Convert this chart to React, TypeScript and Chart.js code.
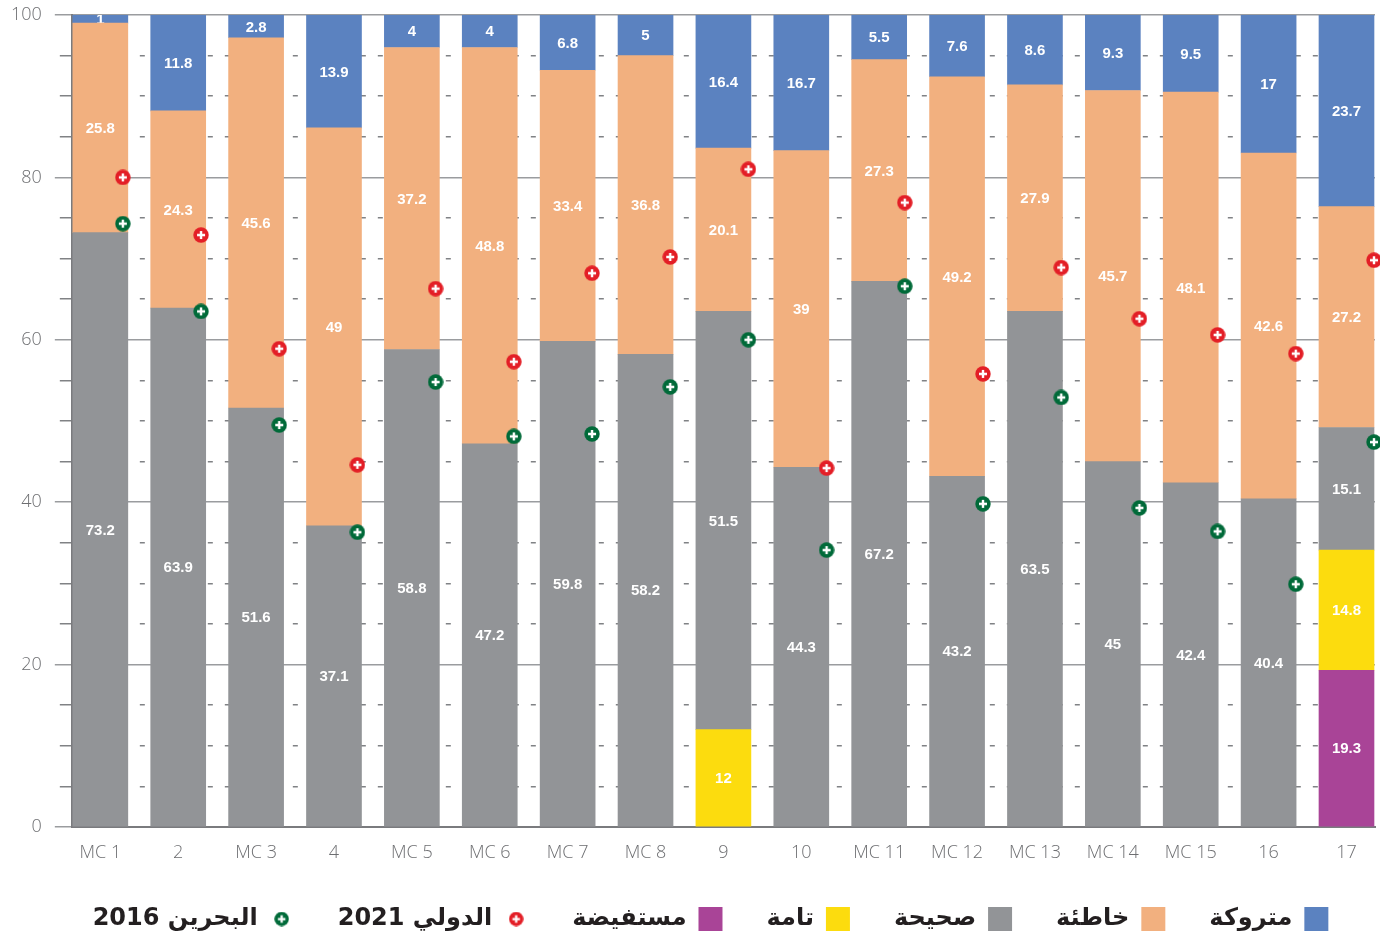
import React, { useEffect, useRef } from 'react';
import { Chart, registerables } from 'chart.js';

Chart.register(...registerables);

const categories = ['MC 1', '2', 'MC 3', '4', 'MC 5', 'MC 6', 'MC 7', 'MC 8', '9', '10', 'MC 11', 'MC 12', 'MC 13', 'MC 14', 'MC 15', '16', '17'];
const mustafida: (number | null)[] = [null, null, null, null, null, null, null, null, null, null, null, null, null, null, null, null, 19.3];
const tamma: (number | null)[] = [null, null, null, null, null, null, null, null, 12, null, null, null, null, null, null, null, 14.8];
const sahiha = [73.2, 63.9, 51.6, 37.1, 58.8, 47.2, 59.8, 58.2, 51.5, 44.3, 67.2, 43.2, 63.5, 45, 42.4, 40.4, 15.1];
const khatia = [25.8, 24.3, 45.6, 49, 37.2, 48.8, 33.4, 36.8, 20.1, 39, 27.3, 49.2, 27.9, 45.7, 48.1, 42.6, 27.2];
const matruka = [1, 11.8, 2.8, 13.9, 4, 4, 6.8, 5, 16.4, 16.7, 5.5, 7.6, 8.6, 9.3, 9.5, 17, 23.7];
const intl2021 = [80, 72.9, 58.9, 44.6, 66.3, 57.3, 68.2, 70.2, 81, 44.2, 76.9, 55.8, 68.9, 62.6, 60.6, 58.3, 69.8];
const bahrain2016 = [74.3, 63.5, 49.5, 36.3, 54.8, 48.1, 48.4, 54.2, 60, 34.1, 66.6, 39.8, 52.9, 39.3, 36.4, 29.9, 47.4];

const seriesLabels = ['مستفيضة', 'تامة', 'صحيحة', 'خاطئة', 'متروكة', 'الدولي 2021', 'البحرين 2016'];
const seriesColors = ['#a94497', '#fcdc0e', '#929497', '#f2b07f', '#5b82c0', '#e31e26', '#006a39'];
const legendOrder = [4, 3, 2, 1, 0, 5, 6];

const MAJOR = '#9a9c9f';
const MINOR = '#808285';
const AXIS = '#7a7b7e';

function makeMarker(color: string, d: number): HTMLCanvasElement {
  const c = document.createElement('canvas');
  c.width = d;
  c.height = d;
  const ctx = c.getContext('2d')!;
  const r = d / 2;
  ctx.fillStyle = color;
  ctx.beginPath();
  ctx.arc(r, r, r - 0.3, 0, Math.PI * 2);
  ctx.fill();
  ctx.strokeStyle = '#ffffff';
  ctx.lineWidth = d * 0.15;
  const a = d * 0.25;
  ctx.beginPath();
  ctx.moveTo(r - a, r);
  ctx.lineTo(r + a, r);
  ctx.moveTo(r, r - a);
  ctx.lineTo(r, r + a);
  ctx.stroke();
  return c;
}

const toPoints = (arr: (number | null)[]) => arr.map((v, i) => ({ x: i, y: v }));

const valueLabels = {
  id: 'valueLabels',
  afterDatasetDraw(chart: any, args: any) {
    const ds = chart.data.datasets[args.index];
    if (ds.type !== 'bar') return;
    const ctx = chart.ctx;
    const area = chart.chartArea;
    ctx.save();
    ctx.beginPath();
    ctx.rect(area.left, area.top, area.right - area.left, area.bottom - area.top);
    ctx.clip();
    ctx.font = 'bold 15px "Liberation Sans", Arial, sans-serif';
    ctx.fillStyle = '#ffffff';
    ctx.textAlign = 'center';
    ctx.textBaseline = 'middle';
    args.meta.data.forEach((el: any, i: number) => {
      const v = ds.data[i].y;
      if (v == null) return;
      const p = el.getProps(['x', 'y', 'base'], true);
      ctx.fillText(String(v), p.x, (p.y + p.base) / 2 + 1);
    });
    ctx.restore();
  },
};

export default function App() {
  const ref = useRef<HTMLCanvasElement | null>(null);

  useEffect(() => {
    if (!ref.current) return;
    const redBig = makeMarker(seriesColors[5], 16);
    const greenBig = makeMarker(seriesColors[6], 16);
    const redSmall = makeMarker(seriesColors[5], 15);
    const greenSmall = makeMarker(seriesColors[6], 15);
    const barSeries = [mustafida, tamma, sahiha, khatia, matruka];

    const datasets: any[] = barSeries.map((arr, k) => ({
      type: 'bar',
      label: seriesLabels[k],
      data: toPoints(arr),
      backgroundColor: seriesColors[k],
      borderWidth: 0,
      barThickness: 55,
      stack: 'bars',
      grouped: false,
      xAxisID: 'x',
      yAxisID: 'y',
    }));
    datasets.push({
      type: 'line',
      label: seriesLabels[5],
      data: toPoints(intl2021),
      showLine: false,
      pointStyle: redBig,
      clip: false,
      xAxisID: 'x2',
      yAxisID: 'y',
      stack: 'intl',
      order: -1,
    });
    datasets.push({
      type: 'line',
      label: seriesLabels[6],
      data: toPoints(bahrain2016),
      showLine: false,
      pointStyle: greenBig,
      clip: false,
      xAxisID: 'x2',
      yAxisID: 'y',
      stack: 'bh',
      order: -2,
    });

    const tickFont = { family: '"Open Sans", "Liberation Sans", sans-serif', size: 18, weight: 300 as any };

    const chart = new Chart(ref.current, {
      type: 'bar',
      data: { datasets },
      plugins: [valueLabels],
      options: {
        animation: false,
        responsive: false,
        devicePixelRatio: 1,
        events: [],
        layout: { padding: { top: 15, left: -2, right: -43, bottom: -7 } },
        scales: {
          x: {
            type: 'linear',
            stacked: true,
            offset: false,
            bounds: 'data',
            min: -0.366,
            max: 16.366,
            afterBuildTicks: (s: any) => {
              s.ticks = categories.map((_, i) => ({ value: i }));
            },
            afterFit: (s: any) => {
              s.height = 36;
            },
            ticks: {
              autoSkip: false,
              maxRotation: 0,
              padding: 15,
              color: '#6d6e71',
              font: tickFont,
              callback: (v: any) => categories[v] ?? '',
            },
            grid: { display: false, drawTicks: false, offset: false },
            border: { display: true, color: AXIS, width: 2 },
          },
          x2: {
            type: 'linear',
            display: false,
            offset: false,
            bounds: 'data',
            grid: { offset: false },
            min: -0.6523,
            max: 16.013,
          },
          y: {
            type: 'linear',
            stacked: true,
            position: 'left',
            min: 0,
            max: 100,
            afterFit: (s: any) => {
              s.paddingTop = 0;
              s.paddingBottom = 0;
            },
            ticks: {
              stepSize: 5,
              autoSkip: false,
              padding: 13,
              color: '#6d6e71',
              font: tickFont,
              callback: (v: any) => (v % 20 === 0 ? String(v) : ''),
            },
            grid: {
              drawTicks: true,
              tickLength: 17,
              lineWidth: 1.5,
              color: (c: any) => (c.tick && c.tick.value % 20 === 0 ? MAJOR : 'rgba(0,0,0,0)'),
              tickColor: (c: any) => (c.tick && c.tick.value % 20 === 0 ? MAJOR : MINOR),
              tickWidth: 1.5,
              tickBorderDash: (c: any) => (c.tick && c.tick.value % 20 === 0 ? [] : [12, 5]),
              tickBorderDashOffset: (c: any) => (c.tick && c.tick.value % 20 === 0 ? 0 : 12),
            } as any,
            border: { display: true, color: AXIS, width: 2 },
          },
          yMinor: {
            type: 'linear',
            position: 'right',
            min: 0,
            max: 100,
            afterFit: (s: any) => {
              s.paddingTop = 0;
              s.paddingBottom = 0;
            },
            ticks: { display: false, stepSize: 5, autoSkip: false },
            grid: {
              drawTicks: false,
              lineWidth: 1.5,
              color: (c: any) => (c.tick && c.tick.value % 20 === 0 ? 'rgba(0,0,0,0)' : MINOR),
            },
            border: { display: false, dash: [5, 12], dashOffset: 0 },
          },
        } as any,
        plugins: {
          tooltip: { enabled: false },
          legend: {
            position: 'bottom',
            align: 'center',
            rtl: true,
            textDirection: 'rtl',
            labels: {
              usePointStyle: true,
              boxWidth: 24,
              boxHeight: 24,
              padding: 44,
              color: '#231f20',
              font: { family: '"DejaVu Sans", sans-serif', size: 24, weight: 'bold' },
              generateLabels: (ch: any) => {
                const items = Chart.defaults.plugins.legend.labels.generateLabels(ch);
                items.forEach((it: any) => {
                  const di = it.datasetIndex;
                  if (di === 5) it.pointStyle = redSmall;
                  else if (di === 6) it.pointStyle = greenSmall;
                  else it.pointStyle = 'rect';
                  it.lineWidth = 0;
                  it.fillStyle = seriesColors[di];
                  it.fontColor = '#231f20';
                });
                return items;
              },
              sort: (a: any, b: any) => legendOrder.indexOf(a.datasetIndex) - legendOrder.indexOf(b.datasetIndex),
            },
          } as any,
        },
      },
    });
    return () => chart.destroy();
  }, []);

  return (
    <div style={{ position: 'fixed', left: 0, top: 0, width: 1380, height: 934, background: '#ffffff' }}>
      <canvas ref={ref} width={1380} height={934} style={{ display: 'block' }} />
    </div>
  );
}
